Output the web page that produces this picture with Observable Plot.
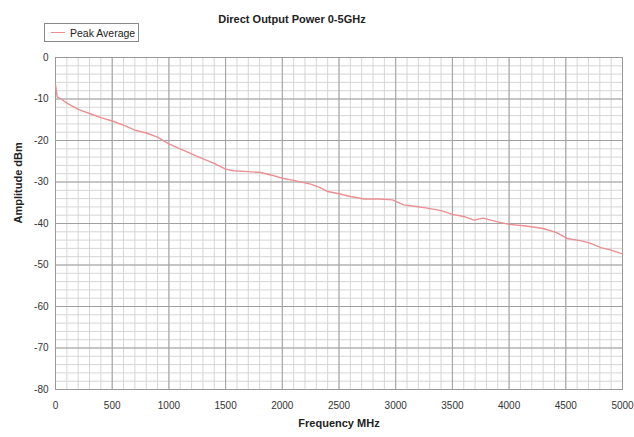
<!DOCTYPE html>
<html>
<head>
<meta charset="utf-8">
<script src="https://cdn.jsdelivr.net/npm/d3@7"></script>
<script src="https://cdn.jsdelivr.net/npm/@observablehq/plot@0.6"></script>
<style>
  html, body { margin: 0; padding: 0; background: #fff; }
  #wrap { position: relative; width: 634px; height: 437px; font-family: "Liberation Sans", Arial, sans-serif; }
  #title { position: absolute; left: 192px; width: 200px; top: 13px; text-align: center; font-weight: bold; font-size: 11px; color: #222; }
  #legend { position: absolute; left: 44px; top: 23px; width: 95px; height: 19px; border: 1px solid #888; box-sizing: border-box; font-size: 10.5px; color: #222; display: flex; align-items: center; }
  #legend .sw { display: inline-block; width: 14px; height: 0; border-top: 1.5px solid #ec8f92; margin: 0 5px 0 6px; }
</style>
</head>
<body>
<div id="wrap">
  <div id="title">Direct Output Power 0-5GHz</div>
  <div id="legend"><span class="sw"></span>Peak Average</div>
</div>
<script>
const freq = [0, 15, 50, 100, 200, 300, 400, 500, 600, 700, 800, 900, 1000, 1100, 1200, 1280, 1400, 1500, 1570, 1700, 1810, 1900, 2000, 2100, 2250, 2330, 2400, 2510, 2600, 2720, 2850, 2970, 3070, 3180, 3280, 3400, 3500, 3600, 3690, 3770, 3900, 4000, 4150, 4300, 4420, 4510, 4640, 4720, 4810, 4900, 5000];
const power = [-6.5, -9.5, -10, -11, -12.5, -13.5, -14.5, -15.3, -16.3, -17.5, -18.2, -19.2, -20.8, -22, -23.2, -24.2, -25.5, -26.9, -27.3, -27.5, -27.7, -28.3, -29.1, -29.6, -30.5, -31.3, -32.3, -32.9, -33.5, -34.1, -34.1, -34.3, -35.5, -35.9, -36.3, -36.9, -37.8, -38.3, -39.2, -38.7, -39.6, -40.2, -40.6, -41.2, -42.2, -43.6, -44.2, -44.8, -45.8, -46.4, -47.3];
const xTicks = [0, 500, 1000, 1500, 2000, 2500, 3000, 3500, 4000, 4500, 5000];
const yTicks = [0, -10, -20, -30, -40, -50, -60, -70, -80];
const xMinor = d3.range(0, 5001, 100);
const yMinor = d3.range(-80, 1, 2);

const data = freq.map((f, i) => ({f, p: power[i]}));
const fmt = d => String(d);

const chart = Plot.plot({
  width: 634,
  height: 437,
  marginLeft: 55,
  marginRight: 12,
  marginTop: 57,
  marginBottom: 48,
  style: {fontFamily: "'Liberation Sans', Arial, sans-serif", fontSize: "10px", color: "#333", background: "transparent"},
  x: {domain: [0, 5000], label: null},
  y: {domain: [-80, 0], label: null},
  marks: [
    Plot.ruleX(xMinor, {stroke: "#d6d6d6", strokeWidth: 1}),
    Plot.ruleY(yMinor, {stroke: "#d6d6d6", strokeWidth: 1}),
    Plot.ruleX(xTicks, {stroke: "#a0a0a0", strokeWidth: 1}),
    Plot.ruleY(yTicks, {stroke: "#a0a0a0", strokeWidth: 1}),
    Plot.frame({stroke: "#999"}),
    Plot.line(data, {x: "f", y: "p", stroke: "#ec8f92", strokeWidth: 1.4}),
    Plot.axisX({ticks: xTicks, tickSize: 0, tickPadding: 12, tickFormat: fmt, label: null}),
    Plot.axisY({ticks: yTicks, tickSize: 0, tickPadding: 7, tickFormat: fmt, label: null}),
    Plot.text(["Frequency MHz"], {frameAnchor: "bottom", dy: 37, fontWeight: "bold", fontSize: 11, fill: "#222"}),
    Plot.text(["Amplitude dBm"], {frameAnchor: "left", dx: -37, rotate: -90, fontWeight: "bold", fontSize: 11, fill: "#222"})
  ]
});
document.getElementById("wrap").prepend(chart);
chart.style.position = "absolute";
chart.style.left = "0";
chart.style.top = "0";
</script>
</body>
</html>
